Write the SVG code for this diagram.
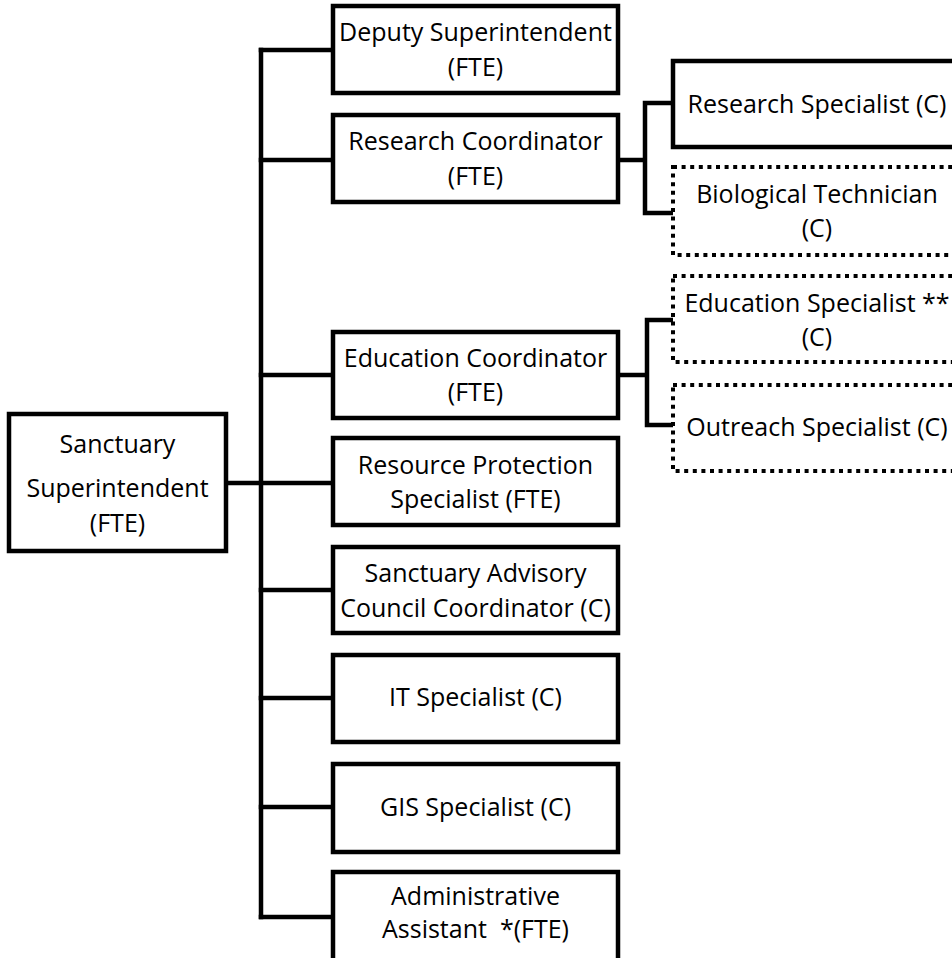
<svg xmlns="http://www.w3.org/2000/svg" width="952" height="958" viewBox="0 0 952 958">
<style>
.box{fill:#fff;stroke:#000;stroke-width:4.5}
.dot{fill:#fff;stroke:#000;stroke-width:4;stroke-dasharray:4 4.6}
.ln{fill:none;stroke:#000;stroke-width:4.5;stroke-linecap:square}
text{font-family:"Open Sans","Noto Sans","Liberation Sans",sans-serif;font-size:25px;fill:#000;text-anchor:middle}
</style>
<rect width="952" height="958" fill="#fff"/>
<g id="connectors">
<path class="ln" d="M261 50V917"/>
<path class="ln" d="M226 483H333"/>
<path class="ln" d="M261 50H333M261 160H333M261 375H333M261 590H333M261 698H333M261 807H333M261 917H333"/>
<path class="ln" d="M618 160H645M645 103V213M645 103H673M645 213H673"/>
<path class="ln" d="M618 375H647M647 320V425M647 320H673M647 425H673"/>
</g>
<g id="sanctuary-superintendent">
<rect class="box" x="9" y="414" width="217" height="137"/>
<text x="117.5" y="453">Sanctuary</text>
<text x="117.5" y="497">Superintendent</text>
<text x="117.5" y="532">(FTE)</text>
</g>
<g id="deputy-superintendent">
<rect class="box" x="333" y="6" width="285" height="87"/>
<text x="475.5" y="41">Deputy Superintendent</text>
<text x="475.5" y="76">(FTE)</text>
</g>
<g id="research-coordinator">
<rect class="box" x="333" y="115" width="285" height="87"/>
<text x="475.5" y="150">Research Coordinator</text>
<text x="475.5" y="185">(FTE)</text>
</g>
<g id="education-coordinator">
<rect class="box" x="333" y="332" width="285" height="86"/>
<text x="475.5" y="367">Education Coordinator</text>
<text x="475.5" y="401">(FTE)</text>
</g>
<g id="resource-protection-specialist">
<rect class="box" x="333" y="438" width="285" height="87"/>
<text x="475.5" y="474">Resource Protection</text>
<text x="475.5" y="508">Specialist (FTE)</text>
</g>
<g id="sanctuary-advisory-council-coordinator">
<rect class="box" x="333" y="547" width="285" height="86"/>
<text x="475.5" y="582">Sanctuary Advisory</text>
<text x="475.5" y="617">Council Coordinator (C)</text>
</g>
<g id="it-specialist">
<rect class="box" x="333" y="655" width="285" height="87"/>
<text x="475.5" y="706">IT Specialist (C)</text>
</g>
<g id="gis-specialist">
<rect class="box" x="333" y="764" width="285" height="88"/>
<text x="475.5" y="816">GIS Specialist (C)</text>
</g>
<g id="administrative-assistant">
<rect class="box" x="333" y="872" width="285" height="90"/>
<text x="475.5" y="905">Administrative</text>
<text x="475.5" y="938" xml:space="preserve">Assistant  *(FTE)</text>
</g>
<g id="research-specialist">
<rect class="box" x="673" y="61" width="300" height="86"/>
<text x="817" y="113">Research Specialist (C)</text>
</g>
<g id="biological-technician">
<rect class="dot" x="673" y="167" width="300" height="88"/>
<text x="817" y="203">Biological Technician</text>
<text x="817" y="237">(C)</text>
</g>
<g id="education-specialist">
<rect class="dot" x="673" y="276" width="300" height="86"/>
<text x="817" y="312">Education Specialist **</text>
<text x="817" y="346">(C)</text>
</g>
<g id="outreach-specialist">
<rect class="dot" x="673" y="385" width="300" height="86"/>
<text x="817" y="436">Outreach Specialist (C)</text>
</g>
</svg>
